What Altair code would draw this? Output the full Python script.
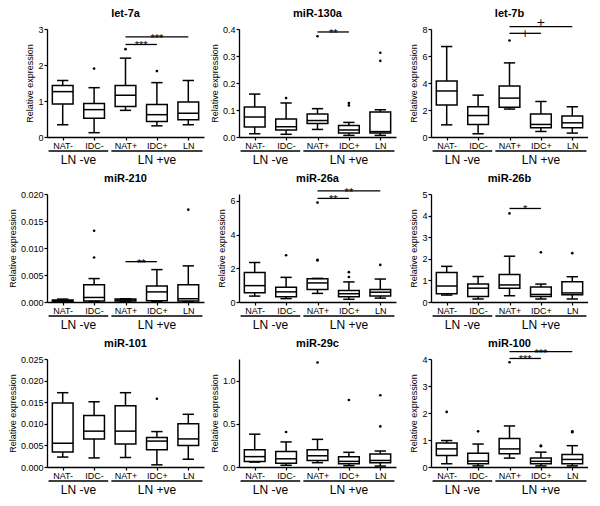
import json
import altair as alt
import pandas as pd

CATEGORIES = ["NAT-", "IDC-", "NAT+", "IDC+", "LN"]
GROUP_NAMES = ["LN -ve", "LN +ve"]
GROUP_SPANS = [(0, 1), (2, 4)]  # first / last category index of each group

TITLES = ["let-7a", "miR-130a", "let-7b", "miR-210", "miR-26a", "miR-26b",
          "miR-101", "miR-29c", "miR-100"]

# [lower whisker, Q1, median, Q3, upper whisker] for NAT-, IDC-, NAT+, IDC+, LN
BOX_LET7A = [[0.34, 0.92, 1.26, 1.43, 1.57], [0.12, 0.52, 0.76, 0.93, 1.37],
             [0.74, 0.85, 1.16, 1.43, 2.19], [0.31, 0.43, 0.62, 0.90, 1.51],
             [0.34, 0.48, 0.66, 0.97, 1.57]]
BOX_MIR130A = [[0.012, 0.037, 0.074, 0.111, 0.159], [0.010, 0.026, 0.038, 0.067, 0.126],
               [0.028, 0.050, 0.061, 0.085, 0.105], [0.006, 0.015, 0.026, 0.043, 0.054],
               [0.006, 0.015, 0.020, 0.093, 0.101]]
BOX_LET7B = [[0.90, 2.37, 3.41, 4.15, 6.70], [0.24, 0.93, 1.59, 2.24, 3.10],
             [2.07, 2.20, 2.88, 3.78, 5.49], [0.41, 0.68, 0.93, 1.71, 2.63],
             [0.29, 0.68, 1.05, 1.56, 2.24]]
BOX_MIR210 = [[0.00006, 0.00012, 0.00024, 0.00036, 0.00054],
              [0.00010, 0.00018, 0.00084, 0.00320, 0.00434],
              [0.00006, 0.00018, 0.00036, 0.00054, 0.00060],
              [0.00006, 0.00024, 0.00187, 0.00295, 0.00600],
              [0.00006, 0.00018, 0.00060, 0.00320, 0.00669]]
BOX_MIR26A = [[0.35, 0.55, 0.97, 1.75, 2.34], [0.20, 0.31, 0.60, 0.88, 1.46],
              [0.51, 0.74, 1.13, 1.38, 1.40], [0.16, 0.31, 0.49, 0.68, 1.19],
              [0.23, 0.35, 0.58, 0.74, 1.36]]
BOX_MIR26B = [[0.32, 0.38, 0.74, 1.36, 1.65], [0.14, 0.26, 0.64, 0.83, 1.18],
              [0.29, 0.64, 0.79, 1.27, 2.12], [0.14, 0.26, 0.35, 0.70, 0.83],
              [0.14, 0.33, 0.42, 0.94, 1.17]]
BOX_MIR101 = [[0.0023, 0.0035, 0.0055, 0.0148, 0.0172], [0.0021, 0.0065, 0.0083, 0.0119, 0.0151],
              [0.0022, 0.0053, 0.0083, 0.0142, 0.0172], [0.0005, 0.0040, 0.0060, 0.0068, 0.0082],
              [0.0018, 0.0050, 0.0065, 0.0100, 0.0122]]
BOX_MIR29C = [[0.057, 0.065, 0.12, 0.20, 0.38], [0.020, 0.042, 0.095, 0.18, 0.29],
              [0.050, 0.076, 0.13, 0.20, 0.32], [0.015, 0.038, 0.065, 0.12, 0.17],
              [0.011, 0.050, 0.076, 0.15, 0.185]]
BOX_MIR100 = [[0.12, 0.43, 0.67, 0.89, 0.98], [0.04, 0.12, 0.22, 0.51, 0.85],
              [0.33, 0.49, 0.67, 1.06, 1.52], [0.04, 0.12, 0.21, 0.33, 0.55],
              [0.04, 0.12, 0.28, 0.46, 0.79]]

# outliers per category
OUT_LET7A = [[], [1.9], [2.44], [1.83], []]
OUT_MIR130A = [[], [0.144], [0.373], [0.117, 0.126], [0.282, 0.312]]
OUT_LET7B = [[], [], [7.15], [], []]
OUT_MIR210 = [[], [0.00825, 0.0132], [], [], [0.0171]]
OUT_MIR26A = [[], [2.77], [2.46, 2.50, 5.89], [1.48, 1.77], [2.2]]
OUT_MIR26B = [[], [], [4.1], [2.3], [2.26]]
OUT_MIR101 = [[], [], [], [0.0158], []]
OUT_MIR29C = [[], [0.405], [1.21], [0.775], [0.47, 0.83]]
OUT_MIR100 = [[2.04], [1.32], [3.88], [0.77, 0.79], [1.29, 1.32]]

# significance bars: (from category, to category, height, symbol, symbol placement)
SIG_LET7A = [(2, 3, 2.57, "***", "above"), (2, 4, 2.78, "***", "above")]
SIG_MIR130A = [(2, 3, 0.389, "**", "above")]
SIG_LET7B = [(2, 4, 8.17, "+", "above"), (2, 3, 7.68, "+", "on")]
SIG_MIR210 = [(2, 3, 0.00747, "**", "above")]
SIG_MIR26A = [(2, 3, 6.14, "**", "above"), (2, 4, 6.59, "**", "above")]
SIG_MIR26B = [(2, 3, 4.33, "*", "above")]
SIG_MIR101 = []
SIG_MIR29C = []
SIG_MIR100 = [(2, 3, 4.02, "***", "above"), (2, 4, 4.27, "***", "above")]

Y_MAX = [3, 0.4, 8, 0.02, 6.4, 5, 0.025, 1.25, 4]
Y_TICKS = [[0, 1, 2, 3], [0, 0.1, 0.2, 0.3, 0.4], [0, 2, 4, 6, 8],
           [0, 0.005, 0.01, 0.015, 0.02], [0, 2, 4, 6], [0, 1, 2, 3, 4, 5],
           [0, 0.005, 0.01, 0.015, 0.02, 0.025], [0, 0.5, 1.0], [0, 1, 2, 3, 4]]
Y_FORMAT = ["d", ".1f", "d", ".3f", "d", "d", ".3f", ".1f", "d"]

BOXES = [BOX_LET7A, BOX_MIR130A, BOX_LET7B, BOX_MIR210, BOX_MIR26A, BOX_MIR26B,
         BOX_MIR101, BOX_MIR29C, BOX_MIR100]
OUTS = [OUT_LET7A, OUT_MIR130A, OUT_LET7B, OUT_MIR210, OUT_MIR26A, OUT_MIR26B,
        OUT_MIR101, OUT_MIR29C, OUT_MIR100]
SIGS = [SIG_LET7A, SIG_MIR130A, SIG_LET7B, SIG_MIR210, SIG_MIR26A, SIG_MIR26B,
        SIG_MIR101, SIG_MIR29C, SIG_MIR100]

W, H = 157, 108
FONT = "Liberation Sans"
BOX_HALF = 0.33
CAP_HALF = 0.18
LW = 1.5

label_expr = json.dumps(CATEGORIES) + "[datum.value]"


def panel(title, box, outs, sigs, ymax, ticks, fmt):
    xs = alt.Scale(domain=[-0.5, 4.5], nice=False, zero=False)
    ys = alt.Scale(domain=[0, ymax], nice=False, zero=True)
    xaxis = alt.Axis(values=list(range(len(CATEGORIES))), labelExpr=label_expr, title=None,
                     grid=False, tickSize=3, tickColor="black", tickWidth=1.2,
                     domainColor="black", domainWidth=1.3, labelFontSize=9, labelColor="black",
                     labelFont=FONT, labelPadding=1, labelFlush=False, labelOverlap=False,
                     labelAngle=0)
    yaxis = alt.Axis(values=ticks, format=fmt, title="Relative expression", grid=False,
                     tickSize=3, tickColor="black", tickWidth=1.2, domainColor="black",
                     domainWidth=1.3, labelFontSize=9, labelColor="black", labelFont=FONT,
                     labelPadding=1, labelFlush=False, labelOverlap=False,
                     titleFontSize=9, titleFont=FONT, titleFontWeight="normal",
                     titleColor="black", titlePadding=3)

    def X(f):
        return alt.X(f, type="quantitative", scale=xs, axis=xaxis)

    def Y(f):
        return alt.Y(f, type="quantitative", scale=ys, axis=yaxis)

    bdf = pd.DataFrame({
        "i": list(range(len(CATEGORIES))),
        "lo": [b[0] for b in box], "q1": [b[1] for b in box], "med": [b[2] for b in box],
        "q3": [b[3] for b in box], "hi": [b[4] for b in box],
    })
    base = alt.Chart(bdf).transform_calculate(
        xl=f"datum.i - {BOX_HALF}", xr=f"datum.i + {BOX_HALF}",
        cl=f"datum.i - {CAP_HALF}", cr=f"datum.i + {CAP_HALF}")

    layers = []
    layers.append(base.mark_rule(color="black", strokeWidth=LW).encode(
        x=X("i"), y=Y("lo"), y2="hi"))
    layers.append(base.mark_bar(fill="white", stroke="black", strokeWidth=LW).encode(
        x=X("xl"), x2="xr", y=Y("q1"), y2="q3"))
    layers.append(base.mark_rule(color="black", strokeWidth=LW).encode(
        x=X("xl"), x2="xr", y=Y("med")))
    layers.append(base.mark_rule(color="black", strokeWidth=LW).encode(
        x=X("cl"), x2="cr", y=Y("lo")))
    layers.append(base.mark_rule(color="black", strokeWidth=LW).encode(
        x=X("cl"), x2="cr", y=Y("hi")))

    orows = [{"i": i, "v": v} for i, vs in enumerate(outs) for v in vs]
    if orows:
        layers.append(alt.Chart(pd.DataFrame(orows)).mark_circle(
            color="black", size=7, opacity=1).encode(x=X("i"), y=Y("v")))

    if sigs:
        sdf = pd.DataFrame([{"a": a, "b": b, "y": y, "sym": s, "place": p,
                             "mid": (a + b) / 2} for a, b, y, s, p in sigs])
        layers.append(alt.Chart(sdf).mark_rule(color="black", strokeWidth=1.3).encode(
            x=X("a"), x2="b", y=Y("y")))
        for (is_star, place), dy, fs, fnt in [((True, "above"), 5, 11, FONT),
                                              ((False, "above"), -1, 11, "DejaVu Sans"),
                                              ((False, "on"), 4, 11, "DejaVu Sans")]:
            sub = sdf[(sdf["sym"].str.contains(r"\*") == is_star) & (sdf["place"] == place)]
            if len(sub):
                layers.append(alt.Chart(sub).mark_text(
                    font=fnt, fontSize=fs, baseline="alphabetic", dy=dy,
                    color="black").encode(
                    x=X("mid"), y=Y("y"), text="sym:N"))

    gdf = pd.DataFrame({
        "name": GROUP_NAMES,
        "s": [s - 0.45 for s, e in GROUP_SPANS],
        "e": [e + 0.45 for s, e in GROUP_SPANS],
        "mid": [(s + e) / 2 for s, e in GROUP_SPANS],
    })
    layers.append(alt.Chart(gdf).mark_rule(color="black", strokeWidth=1.4).encode(
        x=X("s"), x2="e", y=alt.value(H + 14)))
    layers.append(alt.Chart(gdf).mark_text(font=FONT, fontSize=12, baseline="middle",
                                           color="black").encode(
        x=X("mid"), y=alt.value(H + 23), text="name:N"))

    layers.append(alt.Chart(pd.DataFrame({"t": [title]})).mark_text(
        font=FONT, fontSize=11, fontWeight="bold", baseline="middle", color="black").encode(
        x=alt.value(W / 2), y=alt.value(-15), text="t:N"))

    return alt.layer(*layers).properties(width=W, height=H)


panels = [panel(TITLES[k], BOXES[k], OUTS[k], SIGS[k], Y_MAX[k], Y_TICKS[k], Y_FORMAT[k])
          for k in range(9)]

chart = alt.ConcatChart(
    concat=panels, columns=3, spacing={"row": 57, "column": 35}, bounds="flush",
).properties(padding=0).configure(font=FONT).configure_view(stroke=None)

chart.save("out.html", embed_options={"renderer": "svg", "actions": False})
